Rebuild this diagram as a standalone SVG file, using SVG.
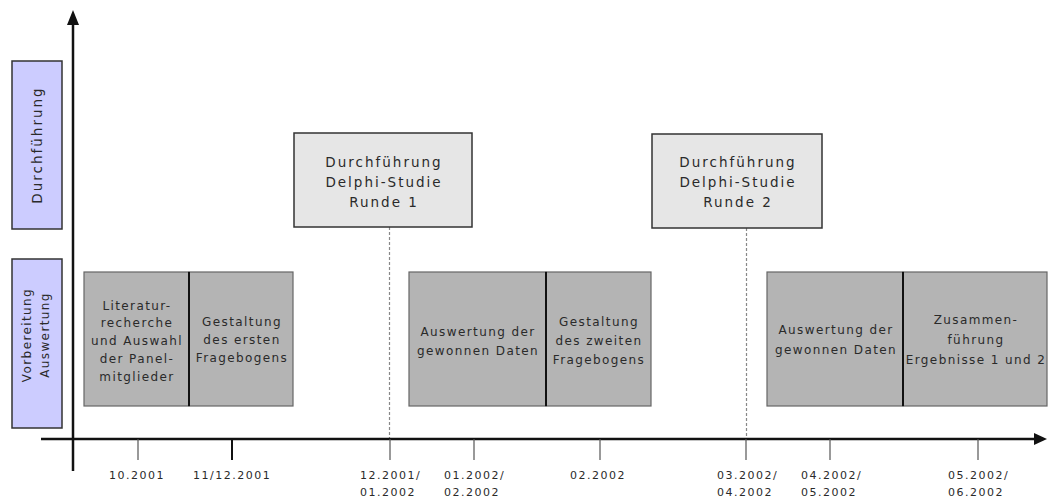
<svg xmlns="http://www.w3.org/2000/svg" width="1048" height="504" viewBox="0 0 1048 504">
<defs>
<style>
.lab{fill:#ccccff;stroke:#333;stroke-width:1.5}
.act{fill:#b4b4b4;stroke:#666;stroke-width:1.2}
.div{stroke:#111;stroke-width:2}
.run{fill:#e6e6e6;stroke:#333;stroke-width:1.5}
text{font-family:"DejaVu Sans","Liberation Sans",sans-serif;fill:#2a2a2a}
.t{font-size:12px;letter-spacing:1.4px;text-anchor:middle}
.r{font-size:13.5px;letter-spacing:2px;text-anchor:middle}
.d{font-size:11px;letter-spacing:1.5px}
.tick{stroke:#555;stroke-width:1.2}
.dash{stroke:#888;stroke-width:1.2;stroke-dasharray:3 2}
.axis{stroke:#111;stroke-width:2.5}
</style>
</defs>
<rect width="1048" height="504" fill="#fff"/>

<g id="label-durchfuehrung">
<rect class="lab" x="12" y="61" width="50" height="168"/>
<text class="r" transform="translate(42,145) rotate(-90)">Durchführung</text>
</g>
<g id="label-vorbereitung">
<rect class="lab" x="12" y="259" width="50" height="169"/>
<text class="t" transform="translate(31,335) rotate(-90)">Vorbereitung</text>
<text class="t" transform="translate(49,335) rotate(-90)">Auswertung</text>
</g>

<g id="connectors">
<line class="dash" x1="389.5" y1="227" x2="389.5" y2="439"/>
<line class="dash" x1="746.5" y1="228" x2="746.5" y2="439"/>
<line class="axis" x1="73" y1="22" x2="73" y2="471"/>
<polygon points="73,10 67,25 79,25" fill="#111"/>
<line class="axis" x1="41" y1="439" x2="1036" y2="439"/>
<polygon points="1047,439 1034,433 1034,445" fill="#111"/>
<line class="tick" x1="138" y1="439" x2="138" y2="460"/>
<line x1="232" y1="439" x2="232" y2="460" stroke="#111" stroke-width="2"/>
<line class="tick" x1="390" y1="439" x2="390" y2="460"/>
<line class="tick" x1="474" y1="439" x2="474" y2="460"/>
<line class="tick" x1="600" y1="439" x2="600" y2="460"/>
<line class="tick" x1="746" y1="439" x2="746" y2="460"/>
<line class="tick" x1="830" y1="439" x2="830" y2="460"/>
<line class="tick" x1="978" y1="439" x2="978" y2="460"/>
</g>

<g id="runde1">
<rect class="run" x="294" y="133" width="178" height="94"/>
<text class="r" x="384" y="167">Durchführung</text>
<text class="r" x="384" y="187">Delphi-Studie</text>
<text class="r" x="384" y="207">Runde 1</text>
</g>
<g id="runde2">
<rect class="run" x="652" y="134" width="170" height="94"/>
<text class="r" x="738" y="167">Durchführung</text>
<text class="r" x="738" y="187">Delphi-Studie</text>
<text class="r" x="738" y="207">Runde 2</text>
</g>

<g id="literatur">
<rect class="act" x="84" y="272" width="105" height="134"/>
<text class="t" x="137" y="310">Literatur-</text>
<text class="t" x="137" y="327">recherche</text>
<text class="t" x="137" y="345">und Auswahl</text>
<text class="t" x="137" y="363">der Panel-</text>
<text class="t" x="137" y="381">mitglieder</text>
</g>
<g id="gestaltung1">
<rect class="act" x="189" y="272" width="104" height="134"/>
<text class="t" x="242" y="326">Gestaltung</text>
<text class="t" x="242" y="344">des ersten</text>
<text class="t" x="242" y="362">Fragebogens</text>
</g>
<g id="auswertung1">
<rect class="act" x="409" y="272" width="137" height="134"/>
<text class="t" x="478" y="336">Auswertung der</text>
<text class="t" x="478" y="355">gewonnen Daten</text>
</g>
<g id="gestaltung2">
<rect class="act" x="546" y="272" width="105" height="134"/>
<text class="t" x="599" y="326">Gestaltung</text>
<text class="t" x="599" y="345">des zweiten</text>
<text class="t" x="599" y="364">Fragebogens</text>
</g>
<g id="auswertung2">
<rect class="act" x="767" y="272" width="136" height="134"/>
<text class="t" x="836" y="334">Auswertung der</text>
<text class="t" x="836" y="354">gewonnen Daten</text>
</g>
<g id="zusammenfuehrung">
<rect class="act" x="903" y="272" width="144" height="134"/>
<text class="t" x="976" y="324">Zusammen-</text>
<text class="t" x="976" y="344">führung</text>
<text class="t" x="976" y="364">Ergebnisse 1 und 2</text>
</g>
<line class="div" x1="189" y1="272" x2="189" y2="406"/>
<line class="div" x1="546" y1="272" x2="546" y2="406"/>
<line class="div" x1="903" y1="272" x2="903" y2="406"/>

<g id="dates">
<text class="d" x="109" y="479">10.2001</text>
<text class="d" x="193" y="479">11/12.2001</text>
<text class="d" x="360" y="479">12.2001/</text>
<text class="d" x="360" y="496">01.2002</text>
<text class="d" x="444" y="479">01.2002/</text>
<text class="d" x="444" y="496">02.2002</text>
<text class="d" x="570" y="479">02.2002</text>
<text class="d" x="717" y="479">03.2002/</text>
<text class="d" x="717" y="496">04.2002</text>
<text class="d" x="801" y="479">04.2002/</text>
<text class="d" x="801" y="496">05.2002</text>
<text class="d" x="948" y="479">05.2002/</text>
<text class="d" x="948" y="496">06.2002</text>
</g>
</svg>
